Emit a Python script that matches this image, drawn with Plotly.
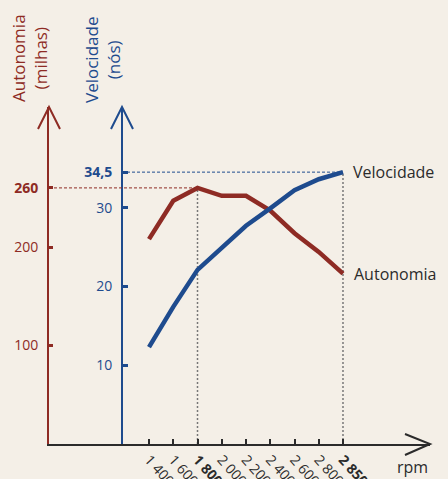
import plotly.graph_objects as go

# ---- data ----
rpm_labels = ["1 400", "1 600", "<b>1 800</b>", "2 000", "2 200", "2 400", "2 600", "2 800", "<b>2 850</b>"]
rpm_pos = [0, 1, 2, 3, 4, 5, 6, 7, 8]
autonomia = [208, 247, 260, 252, 252, 237, 214, 195, 173]
velocidade = [12.3, 17.4, 22.1, 24.9, 27.7, 29.9, 32.2, 33.6, 34.5]
aut_ticks = [100, 200, 260]
aut_ticktext = ["100", "200", "<b>260</b>"]
vel_ticks = [10, 20, 30, 34.5]
vel_ticktext = ["10", "20", "30", "<b>34,5</b>"]

RED = "#8E2B24"
BLUE = "#1E4B8E"
DARK = "#2B2B2B"
BG = "#F4EFE7"
FONT = "Open Sans"

W, H = 448, 479
L, R, T, B = 49, 18, 107, 35
pw, ph = W - L - R, H - T - B
x_left, x_right = -4.124, 11.588
blue_pos = (122 - L) / pw


def px(x, y):
    return (x - L) / pw, (H - B - y) / ph


def arrow(tip, w1, w2, color):
    a, b, c = px(*w1), px(*tip), px(*w2)
    return dict(type="path", xref="paper", yref="paper",
                path=f"M {a[0]},{a[1]} L {b[0]},{b[1]} L {c[0]},{c[1]}",
                line=dict(color=color, width=2))


fig = go.Figure()
fig.add_trace(go.Scatter(x=rpm_pos, y=autonomia, mode="lines",
                         line=dict(color=RED, width=4.5), yaxis="y", showlegend=False,
                         hoverinfo="skip"))
fig.add_trace(go.Scatter(x=rpm_pos, y=velocidade, mode="lines",
                         line=dict(color=BLUE, width=4.5), yaxis="y2", showlegend=False,
                         hoverinfo="skip"))

shapes = [
    dict(type="line", xref="x", yref="y", x0=x_left, x1=rpm_pos[2], y0=autonomia[2], y1=autonomia[2],
         line=dict(color=RED, width=1, dash="3px,2px")),
    dict(type="line", xref="x", yref="y2", x0=x_left + blue_pos * (x_right - x_left), x1=rpm_pos[8],
         y0=velocidade[8], y1=velocidade[8], line=dict(color=BLUE, width=1, dash="3px,2px")),
    dict(type="line", xref="x", yref="y", x0=rpm_pos[2], x1=rpm_pos[2], y0=0, y1=autonomia[2],
         line=dict(color="#777777", width=1.5, dash="2px,2px"), layer="below"),
    dict(type="line", xref="x", yref="y2", x0=rpm_pos[8], x1=rpm_pos[8], y0=0, y1=velocidade[8],
         line=dict(color="#777777", width=1.5, dash="2px,2px"), layer="below"),
    arrow((49, 107), (38, 129), (60, 129), RED),
    arrow((122, 107), (111, 129), (133, 129), BLUE),
    arrow((430, 444), (405, 434), (405, 455), DARK),
]

annotations = [
    dict(text="Autonomia<br>(milhas)", x=px(30, 0)[0], y=px(0, 58)[1], xref="paper", yref="paper",
         textangle=-90, showarrow=False, font=dict(family=FONT, size=17, color=RED),
         xanchor="center", yanchor="middle"),
    dict(text="Velocidade<br>(nós)", x=px(103, 0)[0], y=px(0, 60)[1], xref="paper", yref="paper",
         textangle=-90, showarrow=False, font=dict(family=FONT, size=17, color=BLUE),
         xanchor="center", yanchor="middle"),
    dict(text="Velocidade", x=rpm_pos[8], y=velocidade[8], xref="x", yref="y2", xshift=8,
         xanchor="left", yanchor="middle", showarrow=False,
         font=dict(family=FONT, size=16, color=DARK)),
    dict(text="Autonomia", x=rpm_pos[8], y=autonomia[8], xref="x", yref="y", xshift=9,
         xanchor="left", yanchor="middle", showarrow=False,
         font=dict(family=FONT, size=16, color=DARK)),
    dict(text="rpm", x=px(412, 0)[0], y=px(0, 467)[1], xref="paper", yref="paper",
         xanchor="center", yanchor="middle", showarrow=False,
         font=dict(family=FONT, size=16, color=DARK)),
]

fig.update_layout(
    width=W, height=H,
    margin=dict(l=L, r=R, t=T, b=B, pad=0, autoexpand=False),
    paper_bgcolor=BG, plot_bgcolor=BG,
    shapes=shapes, annotations=annotations,
    hovermode=False,
    xaxis=dict(range=[x_left, x_right], tickvals=rpm_pos, ticktext=rpm_labels, automargin=False,
               tickangle=48, ticks="inside", ticklen=5, tickwidth=2, tickcolor=DARK,
               showline=True, linecolor=DARK, linewidth=2, showgrid=False, zeroline=False,
               tickfont=dict(family=FONT, size=14, color=DARK)),
    yaxis=dict(range=[0, ph / 0.985], tickvals=aut_ticks, ticktext=aut_ticktext, automargin=False,
               ticks="inside", ticklen=4, tickwidth=3, tickcolor=RED,
               showline=True, linecolor=RED, linewidth=2, showgrid=False, zeroline=False,
               ticklabelstandoff=6,
               tickfont=dict(family=FONT, size=14, color=RED)),
    yaxis2=dict(range=[0, ph / 7.88], tickvals=vel_ticks, ticktext=vel_ticktext, automargin=False,
                overlaying="y", anchor="free", position=blue_pos, side="left",
                ticks="inside", ticklen=5, tickwidth=3, tickcolor=BLUE,
                showline=True, linecolor=BLUE, linewidth=2, showgrid=False, zeroline=False,
                ticklabelstandoff=6,
                tickfont=dict(family=FONT, size=14, color=BLUE)),
)

fig.write_html(
    "out.html",
    config={"displayModeBar": False},
    post_script="document.body.style.margin='0';document.body.style.overflow='hidden';"
                "document.body.style.background='" + BG + "';",
)
